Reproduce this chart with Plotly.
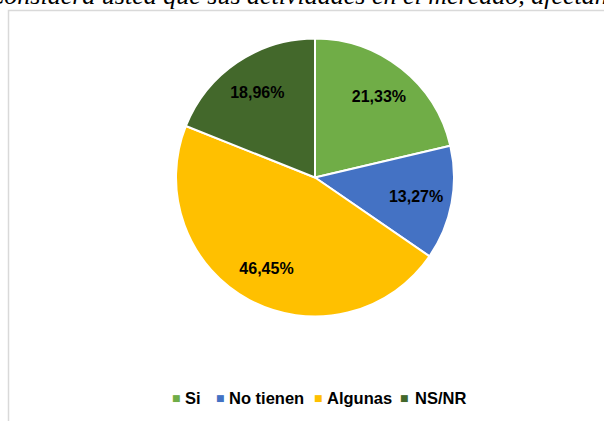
import plotly.graph_objects as go

categories = ["Si", "No tienen", "Algunas", "NS/NR"]
values = [21.33, 13.27, 46.45, 18.96]
colors = ["#70AD47", "#4472C4", "#FFC000", "#43682B"]
title_text = "Considera usted que sus actividades en el mercado, afectan"

W, H = 604, 421
labels_txt = [f"{v:.2f}".replace(".", ",") + "%" for v in values]

cx, cy, r = 315, 177.5, 139
dom = dict(x=[(cx - r) / W, (cx + r) / W], y=[(H - cy - r) / H, (H - cy + r) / H])
lab_font = "Liberation Sans, Arial, sans-serif"

fig = go.Figure()
# coloured pie
fig.add_trace(go.Pie(
    labels=categories, values=values, textinfo="none",
    sort=False, direction="clockwise", rotation=0,
    marker=dict(colors=colors, line=dict(color="white", width=2)),
    domain=dom, showlegend=False, hoverinfo="label+percent",
))
# transparent ring carrying the percentage labels (places them at ~3/4 radius)
fig.add_trace(go.Pie(
    labels=categories, values=values, text=labels_txt,
    texttemplate="%{text}", textinfo="text", hole=0.48,
    textposition="inside", insidetextorientation="horizontal",
    sort=False, direction="clockwise", rotation=0,
    marker=dict(colors=["rgba(0,0,0,0)"] * len(values), line=dict(width=0)),
    textfont=dict(family=lab_font, size=16, color="black", weight="bold"),
    domain=dom, showlegend=False, hoverinfo="skip",
))

annotations = [dict(
    text=title_text, xref="paper", yref="paper", x=-14 / W, y=1 - 11 / H,
    xanchor="left", yanchor="bottom", showarrow=False, borderpad=0,
    font=dict(family="Liberation Serif, Times New Roman, serif", size=26, color="black", style="italic"),
)]

marker_x = [176.5, 220.5, 318.5, 404.5]
text_x = [183, 227, 325, 413]
leg_y = 1 - 398 / H
for cat, col, mx, tx in zip(categories, colors, marker_x, text_x):
    annotations.append(dict(text="■", xref="paper", yref="paper", x=mx / W, y=leg_y,
                            xanchor="center", yanchor="middle", showarrow=False,
                            font=dict(size=9, color=col, family="DejaVu Sans")))
    annotations.append(dict(text=f"<b>{cat}</b>", xref="paper", yref="paper", x=tx / W, y=leg_y,
                            xanchor="left", yanchor="middle", showarrow=False,
                            font=dict(size=16.5, color="black", family=lab_font)))

fig.update_layout(
    width=W, height=H, margin=dict(l=0, r=0, t=0, b=0),
    paper_bgcolor="white", plot_bgcolor="white",
    annotations=annotations,
    shapes=[dict(type="rect", xref="paper", yref="paper",
                 x0=8.5 / W, x1=1.2, y0=-0.2, y1=1 - 10.5 / H,
                 line=dict(color="#D9D9D9", width=1.5), fillcolor="rgba(0,0,0,0)", layer="below")],
)

fig.write_html("out.html", config={"displayModeBar": False},
               post_script="document.body.style.margin='0';")
